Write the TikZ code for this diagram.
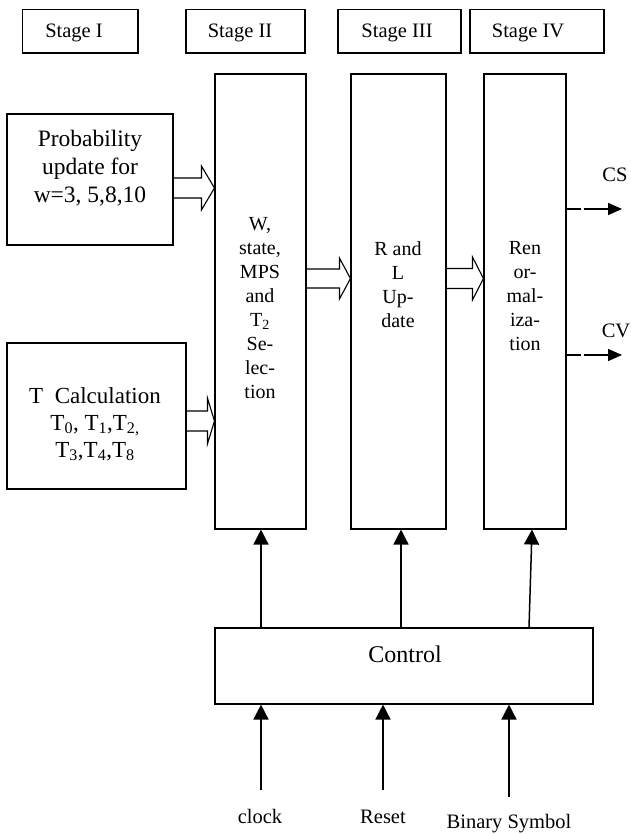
\documentclass[tikz,border=0pt]{standalone}
\usepackage{fontspec}
\setmainfont{Liberation Serif}
\usetikzlibrary{arrows.meta,calc}
\newcommand\hollowarrow[5]{%
  \draw[hollow] let \p1=(#1), \p2=(#2) in
    (\x1,\y1+#3) -- (\x2-#5,\y1+#3) -- (\x2-#5,\y1+#4) -- (\x2,\y1)
    -- (\x2-#5,\y1-#4) -- (\x2-#5,\y1-#3) -- (\x1,\y1-#3);}
\begin{document}
\begin{tikzpicture}[x=1pt,y=-1pt,
  box/.style={draw, line width=1.1pt, inner sep=0pt},
  lbl/.style={font=\fontsize{20.5}{24}\selectfont, inner sep=0pt, anchor=base},
  big/.style={font=\fontsize{23.5}{28}\selectfont, inner sep=0pt, align=center, anchor=base},
  mid/.style={font=\fontsize{20}{24}\selectfont, inner sep=0pt, align=center, anchor=base},
  sig/.style={line width=1.5pt, -{Triangle[length=15pt,width=15pt]}},
  outarr/.style={line width=1.5pt, dash pattern=on 14pt off 3pt on 200pt, -{Triangle[length=14pt,width=12pt]}},
  hollow/.style={line width=1.1pt, line join=miter}
]
\useasboundingbox (0,0) rectangle (630,834);

% stage header boxes
\node[box, minimum width=115.3pt, minimum height=43.7pt] (h1) at (80.35,31.15) {};
\node[box, minimum width=119pt, minimum height=43.7pt] (h2) at (245.5,31.15) {};
\node[box, minimum width=123pt, minimum height=43.7pt] (h3) at (399.5,31.15) {};
\node[box, minimum width=134pt, minimum height=43.7pt] (h4) at (537,31.15) {};
\node[lbl] (h1t) at (74,38) {Stage I};
\node[lbl] (h2t) at (240,38) {Stage II};
\node[lbl] (h3t) at (397,38) {Stage III};
\node[lbl] (h4t) at (528,38) {Stage IV};

% left boxes
\node[box, minimum width=166pt, minimum height=131pt] (prob) at (90,179.5) {};
\node[big] (probt) at (90,203) {Probability\\update for\\w=3, 5,8,10};
\node[box, minimum width=179pt, minimum height=146pt] (tcal) at (96.5,416) {};
\node[font=\fontsize{23}{27}\selectfont, inner sep=0pt, align=center, anchor=base] (tcalt) at (95,457)
  {T\ \ Calculation\\T\textsubscript{0}, T\textsubscript{1},T\textsubscript{2,}\\T\textsubscript{3},T\textsubscript{4},T\textsubscript{8}};

% stage blocks
\node[box, minimum width=91pt, minimum height=455pt] (s2) at (260.5,301.5) {};
\node[mid] (s2t) at (260,398) {W,\\state,\\MPS\\and\\T\textsubscript{2}\\Se-\\lec-\\tion};
\node[box, minimum width=95pt, minimum height=455pt] (s3) at (398.5,301.5) {};
\node[mid] (s3t) at (398,327) {R and\\L\\Up-\\date};
\node[box, minimum width=82pt, minimum height=455pt] (s4) at (525,301.5) {};
\node[mid] (s4t) at (525,350) {Ren\\or-\\mal-\\iza-\\tion};

% control
\node[box, minimum width=378pt, minimum height=76pt] (ctrl) at (404,666) {};
\node[font=\fontsize{24}{28}\selectfont, inner sep=0pt, anchor=base] (ctrlt) at (405,662) {Control};

% hollow (bus) arrows
\coordinate (ya) at (0,188);
\coordinate (yb) at (0,421);
\coordinate (yc) at (0,278.5);
\hollowarrow{prob.east |- ya}{s2.west |- ya}{10pt}{22pt}{13pt}
\hollowarrow{tcal.east |- yb}{s2.west |- yb}{10pt}{23pt}{7pt}
\hollowarrow{s2.east |- yc}{s3.west |- yc}{9.5pt}{20.5pt}{11pt}
\hollowarrow{s3.east |- yc}{s4.west |- yc}{10pt}{21.5pt}{11pt}

% control to stages
\coordinate (x2) at (261,0);
\coordinate (x3) at (401,0);
\coordinate (x4a) at (529,0);
\coordinate (x4b) at (532,0);
\draw[sig] (ctrl.north -| x2) -- (s2.south -| x2);
\draw[sig] (ctrl.north -| x3) -- (s3.south -| x3);
\draw[sig] (ctrl.north -| x4a) -- (s4.south -| x4b);

% inputs
\coordinate (clk) at (261,790);
\coordinate (rst) at (383,790);
\coordinate (bin) at (509,797);
\draw[sig] (clk) -- (clk |- ctrl.south);
\draw[sig] (rst) -- (rst |- ctrl.south);
\draw[sig] (bin) -- (bin |- ctrl.south);
\node[lbl] (clkt) at (260,823) {clock};
\node[lbl] (rstt) at (383,823) {Reset};
\node[lbl] (bint) at (509,828) {Binary Symbol};

% outputs
\coordinate (cs) at (622,209);
\coordinate (cv) at (622,355);
\draw[outarr] (s4.east |- cs) -- (cs);
\draw[outarr] (s4.east |- cv) -- (cv);
\node[lbl] (cst) at (615,182) {CS};
\node[lbl] (cvt) at (616,337) {CV};
\end{tikzpicture}
\end{document}
